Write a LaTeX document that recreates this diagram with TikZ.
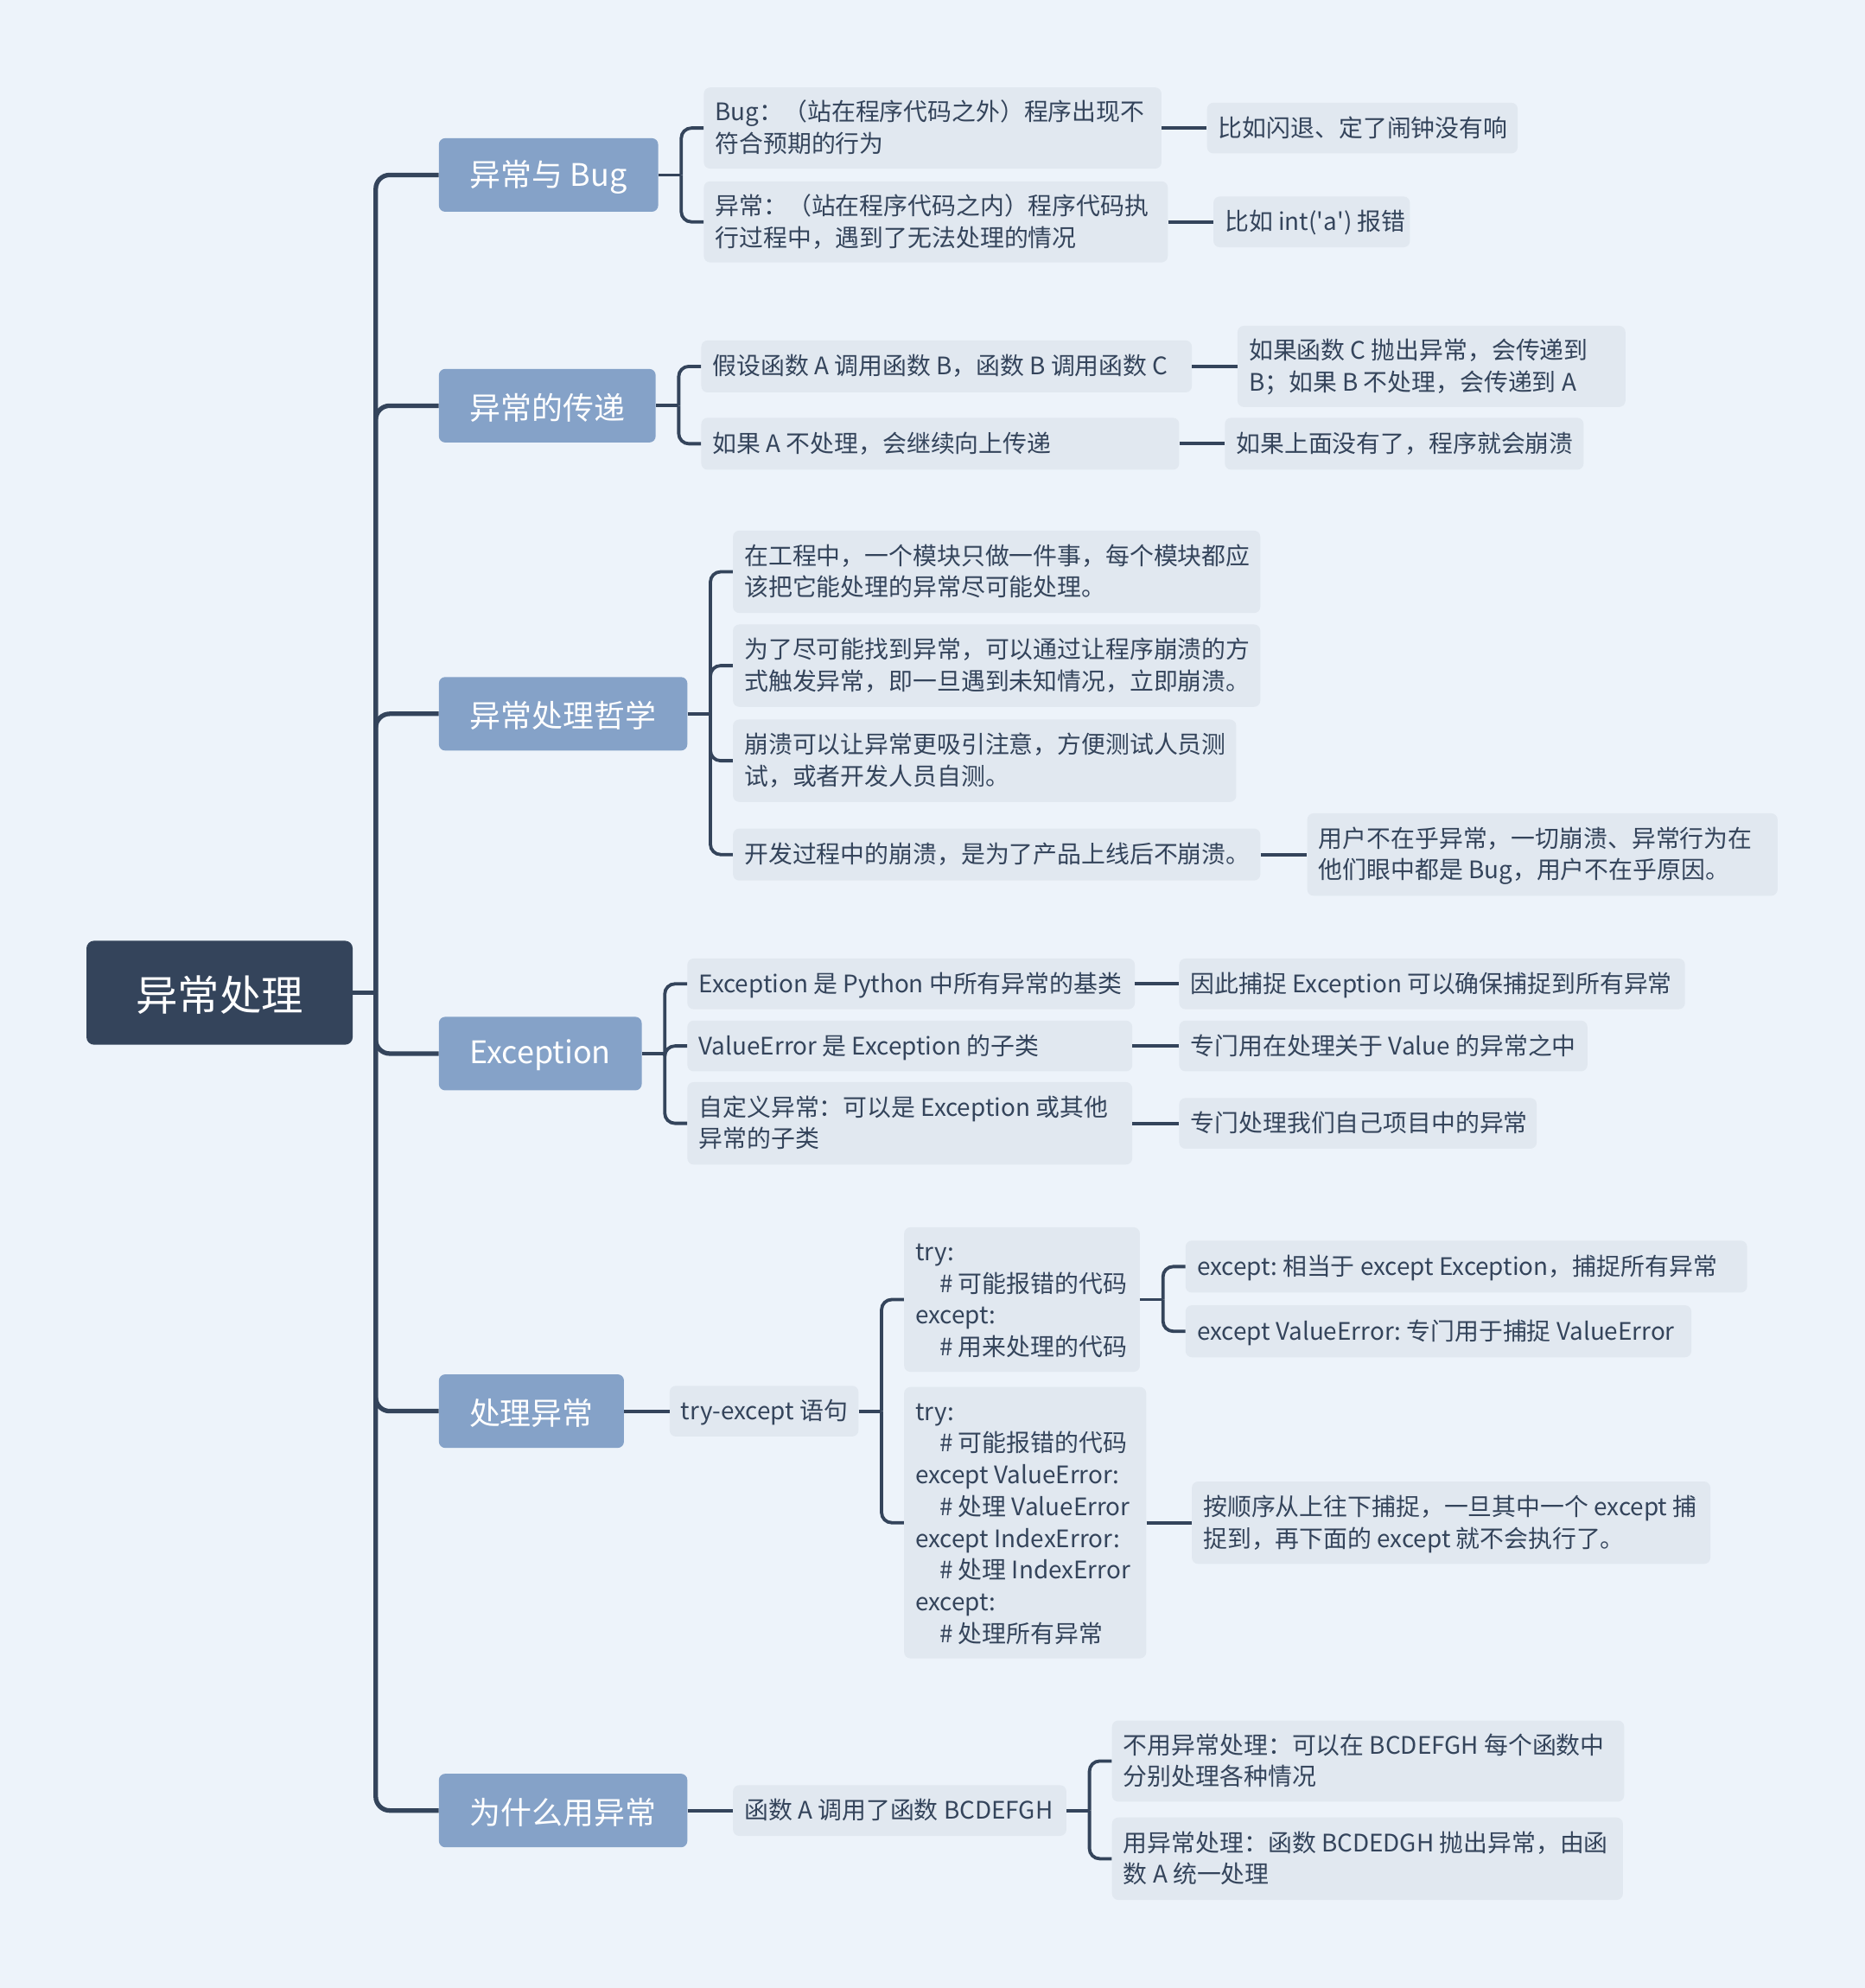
\documentclass[tikz,border=0pt]{standalone}
\usepackage{fontspec}
\setmainfont{Noto Sans CJK SC}[Ligatures=TeXOff]
\definecolor{bg}{HTML}{EDF3FA}
\definecolor{ink}{HTML}{34445B}
\definecolor{mainfill}{HTML}{85A2C8}
\definecolor{subfill}{HTML}{E1E8F0}
\newcommand\subfnt{\fontsize{19}{25}\selectfont}
\newcommand\mainfnt{\fontsize{24.5}{28}\selectfont}
\newcommand\rootfnt{\fontsize{33}{36}\selectfont}
\newcommand\ind{\hspace*{19pt}}
\newcommand\lines[2]{\raisebox{-1.8pt}[\height][\depth]{\makebox[#1pt][l]{\begin{tabular}{@{}l@{}}#2\end{tabular}}}}
\newcommand\dn[1]{\raisebox{-1.5pt}[\height][\depth]{#1}}
\frenchspacing
\tikzset{
  sub/.style={fill=subfill, rounded corners=5pt, text=ink, font=\subfnt, inner xsep=9pt, inner ysep=0pt, anchor=west},
  mainbox/.style={fill=mainfill, rounded corners=5pt, text=white, font=\mainfnt, minimum height=58pt, anchor=west, inner xsep=0pt},
  rootbox/.style={fill=ink, rounded corners=6pt, text=white, font=\rootfnt, minimum height=82pt, minimum width=210pt, anchor=west},
  trunk/.style={draw=ink, line width=3.6pt, rounded corners=11pt},
  br/.style={draw=ink, line width=2.6pt, rounded corners=8pt},
  ln/.style={draw=ink, line width=2.6pt},
}
\begin{document}
\begin{tikzpicture}[x=1pt,y=-1pt]
\fill[bg] (0,0) rectangle (1471,1568);

% root
\node[rootbox] (root) at (68,783) {\dn{异常处理}};

% main topics
\node[mainbox, minimum width=173pt] (m1) at (346,138) {\dn{异常与 Bug}};
\node[mainbox, minimum width=171pt] (m2) at (346,320) {\dn{异常的传递}};
\node[mainbox, minimum width=196pt] (m3) at (346,563) {\dn{异常处理哲学}};
\node[mainbox, minimum width=160pt] (m4) at (346,831) {\dn{Exception}};
\node[mainbox, minimum width=146pt] (m5) at (346,1113) {\dn{处理异常}};
\node[mainbox, minimum width=196pt] (m6) at (346,1428) {\dn{为什么用异常}};

% group 1
\node[sub, minimum height=64pt] (g1a) at (555,101) {\lines{343}{Bug：（站在程序代码之外）程序出现不\\符合预期的行为}};
\node[sub, minimum height=64pt] (g1b) at (555,175) {\lines{348}{异常：（站在程序代码之内）程序代码执\\行过程中，遇到了无法处理的情况}};
\node[sub, minimum height=40pt] (l1a) at (952,101) {\lines{227}{比如闪退、定了闹钟没有响}};
\node[sub, minimum height=40pt] (l1b) at (957,175) {\lines{137}{比如 int('a') 报错}};

% group 2
\node[sub, minimum height=41pt] (g2a) at (553,289) {\lines{369}{假设函数 A 调用函数 B，函数 B 调用函数 C}};
\node[sub, minimum height=41pt] (g2b) at (553,350) {\lines{359}{如果 A 不处理，会继续向上传递}};
\node[sub, minimum height=64pt] (l2a) at (976,289) {\lines{288}{如果函数 C 抛出异常，会传递到\\B；如果 B 不处理，会传递到 A}};
\node[sub, minimum height=41pt] (l2b) at (966,350) {\lines{265}{如果上面没有了，程序就会崩溃}};

% group 3
\node[sub, minimum height=65pt] (g3a) at (578,451) {\lines{398}{在工程中，一个模块只做一件事，每个模块都应\\该把它能处理的异常尽可能处理。}};
\node[sub, minimum height=65pt] (g3b) at (578,525) {\lines{398}{为了尽可能找到异常，可以通过让程序崩溃的方\\式触发异常，即一旦遇到未知情况，立即崩溃。}};
\node[sub, minimum height=65pt] (g3c) at (578,600) {\lines{379}{崩溃可以让异常更吸引注意，方便测试人员测\\试，或者开发人员自测。}};
\node[sub, minimum height=41pt] (g3d) at (578,674) {\lines{398}{开发过程中的崩溃，是为了产品上线后不崩溃。}};
\node[sub, minimum height=65pt] (l3d) at (1031,674) {\lines{353}{用户不在乎异常，一切崩溃、异常行为在\\他们眼中都是 Bug，用户不在乎原因。}};

% group 4
\node[sub, minimum height=40pt] (g4a) at (542,776) {\lines{335}{Exception 是 Python 中所有异常的基类}};
\node[sub, minimum height=40pt] (g4b) at (542,825) {\lines{333}{ValueError 是 Exception 的子类}};
\node[sub, minimum height=65pt] (g4c) at (542,886) {\lines{333}{自定义异常：可以是 Exception 或其他\\异常的子类}};
\node[sub, minimum height=40pt] (l4a) at (930,776) {\lines{381}{因此捕捉 Exception 可以确保捕捉到所有异常}};
\node[sub, minimum height=40pt] (l4b) at (930,825) {\lines{304}{专门用在处理关于 Value 的异常之中}};
\node[sub, minimum height=40pt] (l4c) at (930,886) {\lines{264}{专门处理我们自己项目中的异常}};

% group 5
\node[sub, minimum height=40pt] (g5) at (528,1113) {\lines{131}{try-except 语句}};
\node[sub, minimum height=114pt] (c1) at (713,1025) {\lines{168}{try:\\\ind\# 可能报错的代码\\except:\\\ind\# 用来处理的代码}};
\node[sub, minimum height=214pt] (c2) at (713,1201) {\lines{173}{try:\\\ind\# 可能报错的代码\\except ValueError:\\\ind\# 处理 ValueError\\except IndexError:\\\ind\# 处理 IndexError\\except:\\\ind\# 处理所有异常}};
\node[sub, minimum height=41pt] (c1a) at (935,999) {\lines{425}{except: 相当于 except Exception，捕捉所有异常}};
\node[sub, minimum height=41pt] (c1b) at (935,1050) {\lines{381}{except ValueError: 专门用于捕捉 ValueError}};
\node[sub, minimum height=65pt] (c2a) at (940,1201) {\lines{391}{按顺序从上往下捕捉，一旦其中一个 except 捕\\捉到，再下面的 except 就不会执行了。}};

% group 6
\node[sub, minimum height=40pt] (g6) at (578,1428) {\lines{245}{函数 A 调用了函数 BCDEFGH}};
\node[sub, minimum height=64pt] (g6a) at (877,1389) {\lines{386}{不用异常处理：可以在 BCDEFGH 每个函数中\\分别处理各种情况}};
\node[sub, minimum height=65pt] (g6b) at (877,1466) {\lines{385}{用异常处理：函数 BCDEDGH 抛出异常，由函\\数 A 统一处理}};

% trunk
\draw[ln, line width=3.6pt] (root.east) -- ++(18,0) coordinate (t);
\foreach \m in {m1,m2,m3,m4,m5,m6} { \draw[trunk] (t) |- (\m.west); }

% group 1 connectors
\draw[ln] (m1.east) -- ++(18,0) coordinate (j1);
\draw[br] (j1) |- (g1a.west);
\draw[br] (j1) |- (g1b.west);
\draw[ln] (g1a.east) -- (l1a.west);
\draw[ln] (g1b.east) -- (l1b.west);

% group 2
\draw[ln] (m2.east) -- ++(18,0) coordinate (j2);
\draw[br] (j2) |- (g2a.west);
\draw[br] (j2) |- (g2b.west);
\draw[ln] (g2a.east) -- (l2a.west);
\draw[ln] (g2b.east) -- (l2b.west);

% group 3
\draw[ln] (m3.east) -- ++(18,0) coordinate (j3);
\foreach \c in {g3a,g3b,g3c,g3d} { \draw[br] (j3) |- (\c.west); }
\draw[ln] (g3d.east) -- (l3d.west);

% group 4
\draw[ln] (m4.east) -- ++(18,0) coordinate (j4);
\foreach \c in {g4a,g4b,g4c} { \draw[br] (j4) |- (\c.west); }
\draw[ln] (g4a.east) -- (l4a.west);
\draw[ln] (g4b.east) -- (l4b.west);
\draw[ln] (g4c.east) -- (l4c.west);

% group 5
\draw[ln] (m5.east) -- (g5.west);
\draw[ln] (g5.east) -- ++(18,0) coordinate (j5);
\draw[br] (j5) |- (c1.west);
\draw[br] (j5) |- (c2.west);
\draw[ln] (c1.east) -- ++(18,0) coordinate (j6);
\draw[br] (j6) |- (c1a.west);
\draw[br] (j6) |- (c1b.west);
\draw[ln] (c2.east) -- (c2a.west);

% group 6
\draw[ln] (m6.east) -- (g6.west);
\draw[ln] (g6.east) -- ++(18,0) coordinate (j7);
\draw[br] (j7) |- (g6a.west);
\draw[br] (j7) |- (g6b.west);
\end{tikzpicture}
\end{document}
